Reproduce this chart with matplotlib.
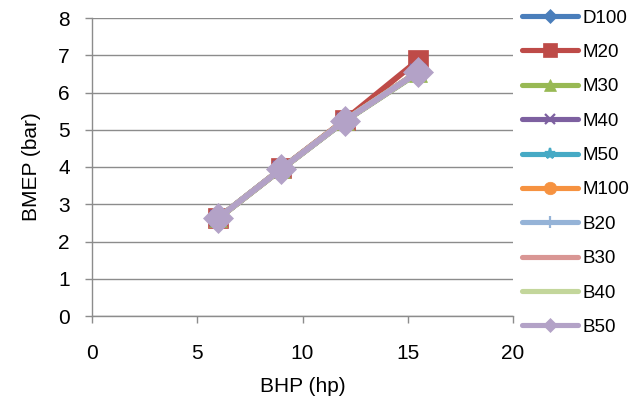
import matplotlib
matplotlib.use("Agg")
import matplotlib.pyplot as plt

plt.rcParams['font.family'] = ['Liberation Sans', 'DejaVu Sans']

bhp = [6, 9, 12, 15.5]
series_names = ["D100", "M20", "M30", "M40", "M50", "M100", "B20", "B30", "B40", "B50"]
D100 = [2.63, 3.95, 5.24, 6.55]
M20 = [2.63, 3.96, 5.26, 6.87]
M30 = [2.62, 3.94, 5.23, 6.53]
M40 = [2.63, 3.95, 5.24, 6.55]
M50 = [2.63, 3.95, 5.24, 6.55]
M100 = [2.63, 3.95, 5.25, 6.56]
B20 = [2.63, 3.95, 5.24, 6.55]
B30 = [2.63, 3.95, 5.24, 6.55]
B40 = [2.63, 3.95, 5.24, 6.55]
B50 = [2.63, 3.95, 5.24, 6.55]
values = [D100, M20, M30, M40, M50, M100, B20, B30, B40, B50]
x_ticks = [0, 5, 10, 15, 20]
y_ticks = [0, 1, 2, 3, 4, 5, 6, 7, 8]

colors = ["#4A7EBB", "#BE4B48", "#98B954", "#7D60A0", "#46AAC5",
          "#F69240", "#95B3D7", "#D99694", "#C3D69B", "#B3A2C7"]
markers = ["D", "s", "^", "x", "*", "o", "|", "None", "None", "D"]
msizes = [12, 15, 13, 11, 12, 14, 12, 0, 0, 15]
leg_msizes = [7, 10, 8, 7, 8, 9, 8, 0, 0, 7]

fig = plt.figure(figsize=(6.33, 4.03), dpi=100)
ax = fig.add_axes([92/633, 1-316/403, (513-92)/633, (316-18)/403])

for name, vals, c, m, ms in zip(series_names, values, colors, markers, msizes):
    ax.plot(bhp, vals, color=c, lw=4.2, marker=m, markersize=ms,
            markeredgewidth=1.6 if m in ("x", "*", "|") else 0.5,
            markeredgecolor=c, label=name, solid_capstyle='round')

ax.set_xlim(0, 20)
ax.set_ylim(0, 8)
ax.set_xticks(x_ticks)
ax.set_yticks(y_ticks)
ax.yaxis.grid(True, color="#8c8c8c", lw=1)
ax.set_axisbelow(True)
for s in ("top", "right"):
    ax.spines[s].set_visible(False)
for s in ("left", "bottom"):
    ax.spines[s].set_color("#8c8c8c")
    ax.spines[s].set_linewidth(1)
ax.tick_params(axis='both', colors="#8c8c8c", length=5, width=1,
               labelcolor="black", labelsize=15, direction='out')
ax.tick_params(axis='x', pad=15)
ax.tick_params(axis='y', pad=11)
ax.set_xlabel("BHP (hp)", fontsize=15, labelpad=10)
ax.set_ylabel("BMEP (bar)", fontsize=15, labelpad=12)

leg = ax.legend(loc='upper left', bbox_to_anchor=(522/633, 1-9.5/403),
                bbox_transform=fig.transFigure, frameon=False, fontsize=13.5,
                handlelength=3.0, handletextpad=0.21, labelspacing=0.92,
                borderpad=0, borderaxespad=0)
for h, ms in zip(leg.legend_handles, leg_msizes):
    h.set_markersize(ms)
    h.set_linewidth(3.7)

fig.savefig("out.png", dpi=100)
